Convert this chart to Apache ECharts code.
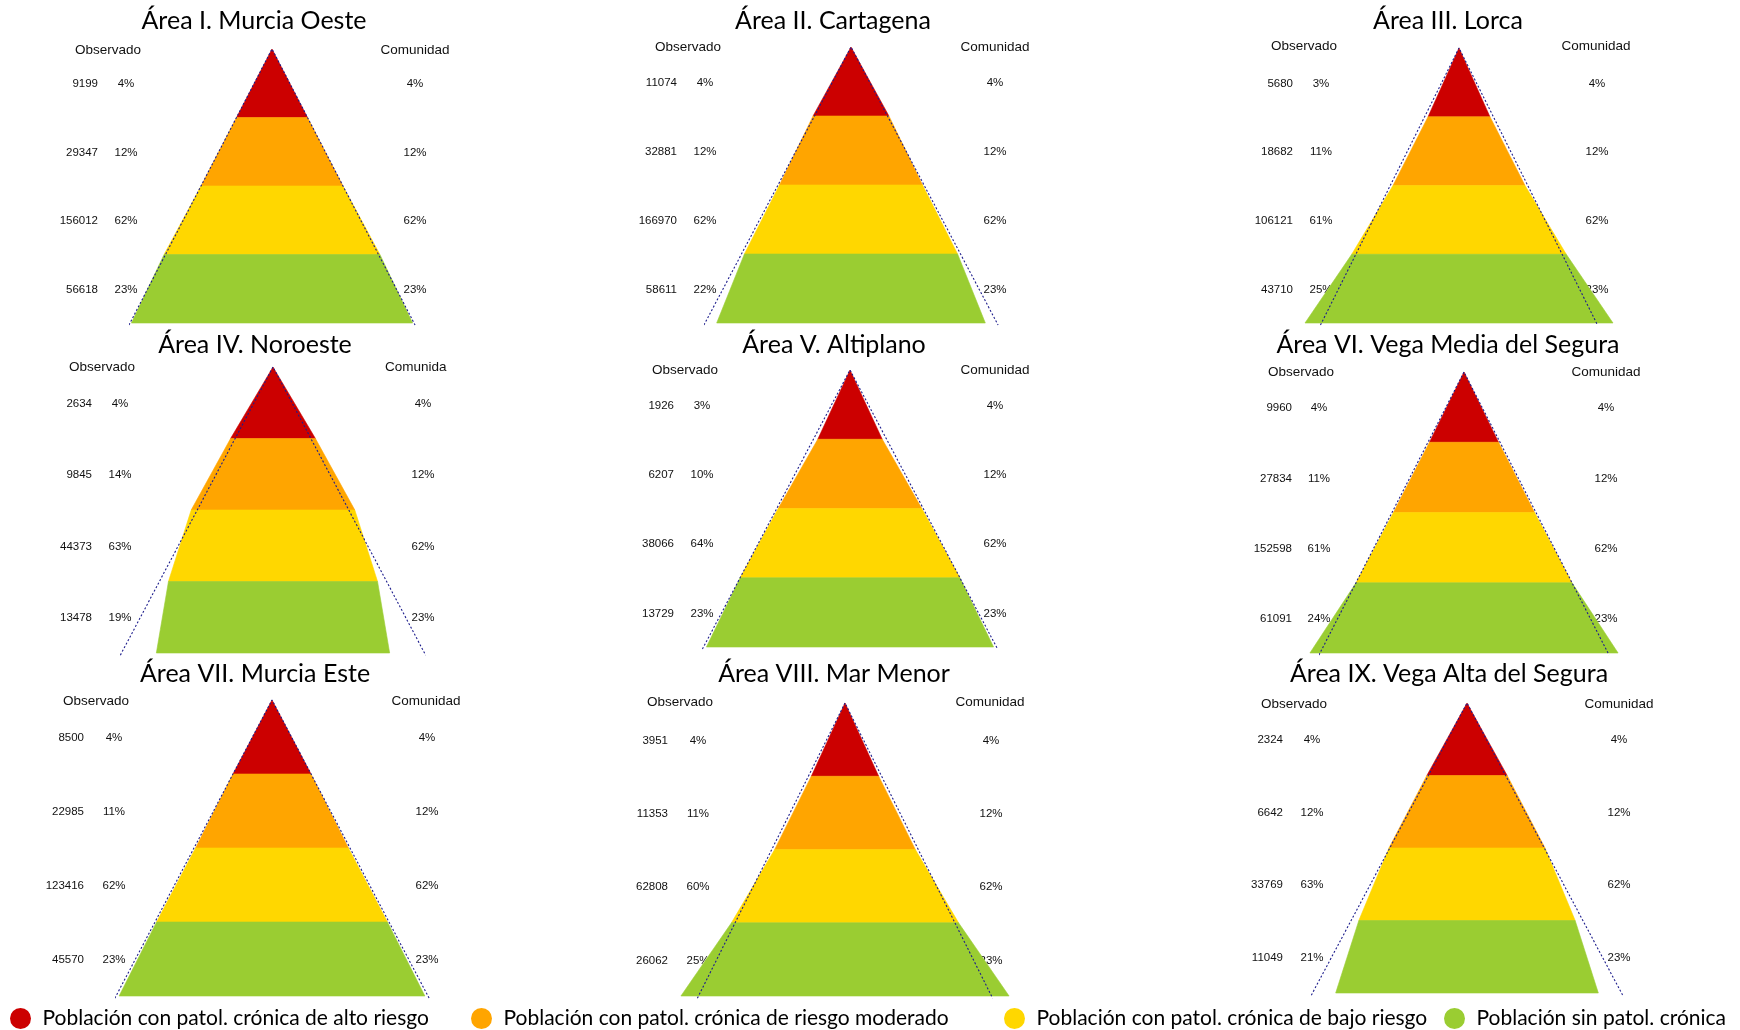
<!DOCTYPE html>
<html><head><meta charset="utf-8">
<script src="https://cdn.jsdelivr.net/npm/echarts@6/dist/echarts.min.js"></script>
<style>html,body{margin:0;padding:0;background:#fff}#c{width:1740px;height:1030px}</style>
</head><body><div id="c"></div>
<script>
// ---------------- DATA ----------------
const areaNames = [
  'Área I. Murcia Oeste', 'Área II. Cartagena', 'Área III. Lorca',
  'Área IV. Noroeste', 'Área V. Altiplano', 'Área VI. Vega Media del Segura',
  'Área VII. Murcia Este', 'Área VIII. Mar Menor', 'Área IX. Vega Alta del Segura'
];
const riskLevels = [
  'Población con patol. crónica de alto riesgo',
  'Población con patol. crónica de riesgo moderado',
  'Población con patol. crónica de bajo riesgo',
  'Población sin patol. crónica'
];
const headerObserved = 'Observado';
const headerCommunity = 'Comunidad';
// observed population per risk level (top → bottom)
const observedCounts = [
  [9199, 29347, 156012, 56618],
  [11074, 32881, 166970, 58611],
  [5680, 18682, 106121, 43710],
  [2634, 9845, 44373, 13478],
  [1926, 6207, 38066, 13729],
  [9960, 27834, 152598, 61091],
  [8500, 22985, 123416, 45570],
  [3951, 11353, 62808, 26062],
  [2324, 6642, 33769, 11049]
];
const observedPct = [
  [4, 12, 62, 23],
  [4, 12, 62, 22],
  [3, 11, 61, 25],
  [4, 14, 63, 19],
  [3, 10, 64, 23],
  [4, 11, 61, 24],
  [4, 11, 62, 23],
  [4, 11, 60, 25],
  [4, 12, 63, 21]
];
const communityPct = [4, 12, 62, 23];
// observed pyramid width at the bottom of each band (community pyramid base = 100)
const observedWidths = [
  [25, 50, 76, 99],
  [26, 49, 73, 92],
  [22.5, 48, 78, 112],
  [28, 54, 69, 77],
  [22, 49, 75, 98],
  [24, 49, 75, 107],
  [25, 49, 74, 98],
  [23, 48, 77.5, 112],
  [26, 50.5, 70, 85]
];
const communityBase = 100;

// ---------------- LAYOUT / STYLE ----------------
const colors = ['#CC0000', '#FFA500', '#FFD700', '#9ACD32'];
const panels = [
  {apex:[272,49],  bottom:323, D:284, title:[254,21],  hdrY:50,  obsX:108,  comX:415,  numR:98,   obsPctX:126,  comPctX:415},
  {apex:[851,47],  bottom:323, D:292, title:[833,21],  hdrY:47,  obsX:688,  comX:995,  numR:677,  obsPctX:705,  comPctX:995},
  {apex:[1459,48], bottom:323, D:275, title:[1448,21], hdrY:46,  obsX:1304, comX:1596, numR:1293, obsPctX:1321, comPctX:1597},
  {apex:[273,367], bottom:653, D:303, title:[255,345], hdrY:367, obsX:102,  comX:420,  numR:92,   obsPctX:120,  comPctX:423, clipCom:454},
  {apex:[850,370], bottom:647, D:293, title:[834,345], hdrY:370, obsX:685,  comX:995,  numR:674,  obsPctX:702,  comPctX:995},
  {apex:[1464,372],bottom:653, D:288, title:[1448,345],hdrY:372, obsX:1301, comX:1606, numR:1292, obsPctX:1319, comPctX:1606},
  {apex:[272,700], bottom:996, D:312, title:[255,674], hdrY:701, obsX:96,   comX:426,  numR:84,   obsPctX:114,  comPctX:427},
  {apex:[845,703], bottom:996, D:293, title:[834,674], hdrY:702, obsX:680,  comX:990,  numR:668,  obsPctX:698,  comPctX:991},
  {apex:[1467,703],bottom:993, D:309, title:[1449,674],hdrY:704, obsX:1294, comX:1619, numR:1283, obsPctX:1312, comPctX:1619}
];
const legendLeft = [5, 466, 999, 1439];
const labelFont = '"Liberation Sans", Arial, sans-serif';
const titleFont = 'Lato, "Open Sans", sans-serif';

const grid = [], xAxis = [], yAxis = [], series = [], graphic = [];
const nBands = riskLevels.length;

panels.forEach((p, k) => {
  grid.push({left: p.apex[0] - p.D / 2, top: p.apex[1], width: p.D, height: p.bottom - p.apex[1], containLabel: false});
  xAxis.push({type: 'value', gridIndex: k, min: -communityBase / 2, max: communityBase / 2, show: false});
  yAxis.push({type: 'value', gridIndex: k, min: 0, max: nBands, show: false});

  const w = observedWidths[k];
  riskLevels.forEach((name, i) => {
    series.push({
      type: 'custom', name: name, xAxisIndex: k, yAxisIndex: k,
      itemStyle: {color: colors[i]}, silent: true, z: 2,
      data: [[i, i === 0 ? 0 : w[i - 1], w[i]]],
      renderItem: (params, api) => {
        const b = api.value(0), wt = api.value(1), wb = api.value(2);
        const yT = nBands - b, yB = nBands - b - 1;
        const pts = [api.coord([-wt / 2, yT]), api.coord([wt / 2, yT]),
                     api.coord([wb / 2, yB]), api.coord([-wb / 2, yB])];
        const c = api.visual('color');
        return {type: 'polygon', shape: {points: pts}, style: {fill: c, stroke: c, lineWidth: 0.6}};
      }
    });
  });
  // community reference pyramid (dotted), extended slightly below the base
  const ext = -0.03, f = (nBands - ext) / nBands;
  series.push({
    type: 'line', name: headerCommunity, xAxisIndex: k, yAxisIndex: k, silent: true, z: 5,
    symbol: 'none', clip: false, animation: false,
    lineStyle: {color: '#1c1c8c', width: 1.1, type: [2, 2]},
    data: [[-communityBase / 2 * f, ext], [0, nBands], [communityBase / 2 * f, ext]]
  });

  // texts
  graphic.push({type: 'text', x: p.title[0], y: p.title[1], silent: true,
    style: {text: areaNames[k], font: '25px ' + titleFont, fill: '#000', align: 'center', verticalAlign: 'middle'}});
  graphic.push({type: 'text', x: p.obsX, y: p.hdrY, silent: true,
    style: {text: headerObserved, font: '13.5px ' + labelFont, fill: '#111', align: 'center', verticalAlign: 'middle'}});
  if (p.clipCom) {
    graphic.push({type: 'text', x: p.comX - 35, y: p.hdrY, silent: true,
      style: {text: headerCommunity, font: '13.5px ' + labelFont, fill: '#111', align: 'left', verticalAlign: 'middle',
              width: p.clipCom - (p.comX - 35), overflow: 'truncate', ellipsis: ''}});
  } else {
    graphic.push({type: 'text', x: p.comX, y: p.hdrY, silent: true,
      style: {text: headerCommunity, font: '13.5px ' + labelFont, fill: '#111', align: 'center', verticalAlign: 'middle'}});
  }
  const bandH = (p.bottom - p.apex[1]) / nBands;
  for (let i = 0; i < nBands; i++) {
    const y = p.apex[1] + (i + 0.5) * bandH + 1;
    graphic.push({type: 'text', x: p.numR, y: y, silent: true,
      style: {text: String(observedCounts[k][i]), font: '11.5px ' + labelFont, fill: '#111', align: 'right', verticalAlign: 'middle'}});
    graphic.push({type: 'text', x: p.obsPctX, y: y, silent: true,
      style: {text: observedPct[k][i] + '%', font: '11.5px ' + labelFont, fill: '#111', align: 'center', verticalAlign: 'middle'}});
    graphic.push({type: 'text', x: p.comPctX, y: y, silent: true,
      style: {text: communityPct[i] + '%', font: '11.5px ' + labelFont, fill: '#111', align: 'center', verticalAlign: 'middle'}});
  }
});

const legend = riskLevels.map((name, i) => ({
  data: [name], left: legendLeft[i], top: 1003, orient: 'horizontal',
  icon: 'circle', itemWidth: 34, itemHeight: 21, selectedMode: false,
  textStyle: {fontFamily: 'Lato', fontSize: 21, color: '#000'}
}));

const chart = echarts.init(document.getElementById('c'), null, {renderer: 'canvas'});
chart.setOption({
  backgroundColor: '#fff',
  animation: false,
  grid, xAxis, yAxis, series, legend, graphic
});
</script>
</body></html>
